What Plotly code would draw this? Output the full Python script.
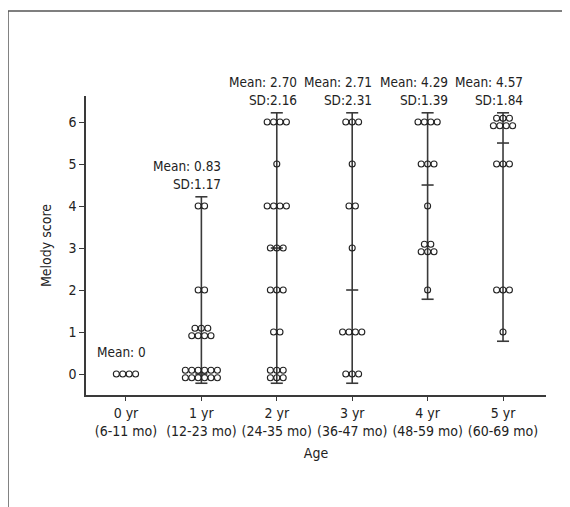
import numpy as np
import plotly.graph_objects as go

# ---- data ----
age_labels = ["0 yr<br>(6-11 mo)", "1 yr<br>(12-23 mo)", "2 yr<br>(24-35 mo)",
              "3 yr<br>(36-47 mo)", "4 yr<br>(48-59 mo)", "5 yr<br>(60-69 mo)"]
score_levels = [0, 1, 2, 3, 4, 5, 6]
# number of children at each melody score level (0..6)
counts_0yr = [4, 0, 0, 0, 0, 0, 0]
counts_1yr = [12, 7, 2, 0, 2, 0, 0]
counts_2yr = [6, 2, 3, 3, 4, 1, 4]
counts_3yr = [3, 4, 0, 1, 2, 1, 3]
counts_4yr = [0, 0, 1, 5, 1, 3, 4]
counts_5yr = [0, 1, 3, 0, 0, 3, 7]
groups = [counts_0yr, counts_1yr, counts_2yr, counts_3yr, counts_4yr, counts_5yr]

FONT = "DejaVu Sans Condensed, Liberation Sans Narrow, sans-serif"
INK = "#222222"
LINE = "#3a3a3a"
DX = 0.085     # horizontal spacing of swarm points (x units)
ROW_DY = 0.09  # vertical offset of stacked rows (y units)
PAD = 0.22     # cap overhang beyond data range
CAP = 0.08     # half-width of caps / median tick

px, py = [], []
wx, wy = [], []
annotations = []
for gi, counts in enumerate(groups):
    vals = np.repeat(score_levels, counts).astype(float)
    for lvl, k in zip(score_levels, counts):
        if k == 0:
            continue
        rows = [k] if k <= 4 else [k // 2, k - k // 2]
        offs = [0.0] if len(rows) == 1 else [ROW_DY, -ROW_DY]
        for n, dy in zip(rows, offs):
            for j in range(n):
                px.append(gi + (j - (n - 1) / 2) * DX)
                py.append(lvl + dy)
    mean = vals.mean()
    sd = vals.std()
    med = np.median(vals)
    lo, hi = vals.min(), vals.max()
    if hi > lo:
        wx += [gi, gi, None, gi - CAP, gi + CAP, None, gi - CAP, gi + CAP, None]
        wy += [lo - PAD, hi + PAD, None, lo - PAD, lo - PAD, None, hi + PAD, hi + PAD, None]
        wx += [gi - CAP, gi + CAP, None]
        wy += [med, med, None]
    if sd == 0:
        txt = "Mean: %s" % ("0" if mean == 0 else "%.2f" % mean)
    else:
        txt = "Mean: %.2f<br>SD:%.2f" % (mean, sd)
    annotations.append(dict(x=gi, y=hi + 0.28, xref="x", yref="y", text=txt,
                            showarrow=False, xanchor="right", yanchor="bottom",
                            align="right", xshift=22,
                            font=dict(family=FONT, size=13.5, color=INK)))

fig = go.Figure()
fig.add_trace(go.Scatter(x=wx, y=wy, mode="lines",
                         line=dict(color=LINE, width=1.6),
                         hoverinfo="skip", showlegend=False))
fig.add_trace(go.Scatter(x=px, y=py, mode="markers",
                         marker=dict(symbol="circle-open", size=6,
                                     color="#222222", line=dict(width=1.1)),
                         showlegend=False))

fig.update_layout(
    width=570, height=507,
    margin=dict(l=78, r=32, t=88, b=120),
    paper_bgcolor="white", plot_bgcolor="white",
    font=dict(family=FONT, size=14, color=INK),
    annotations=annotations,
    shapes=[dict(type="path", xref="paper", yref="paper",
                 path="M 1.06 1.2843 L -0.1696 1.2843 L -0.1696 -0.40",
                 line=dict(color="#555555", width=1.5))],
)
fig.update_xaxes(range=[-0.53, 5.57], tickvals=list(range(6)), ticktext=age_labels,
                 tickangle=0,
                 showline=True, linecolor=LINE, linewidth=1.5, mirror=False,
                 ticks="outside", ticklen=4, tickcolor=LINE, showgrid=False,
                 zeroline=False, tickfont=dict(size=14),
                 title=dict(text="Age", font=dict(size=14), standoff=10))
fig.update_yaxes(range=[-0.5, 6.62], tickvals=score_levels,
                 showline=True, linecolor=LINE, linewidth=1.5,
                 ticks="outside", ticklen=5, tickcolor=LINE, showgrid=False,
                 zeroline=False, tickfont=dict(size=14),
                 title=dict(text="Melody score", font=dict(size=14), standoff=14))

fig.write_html("out.html")
